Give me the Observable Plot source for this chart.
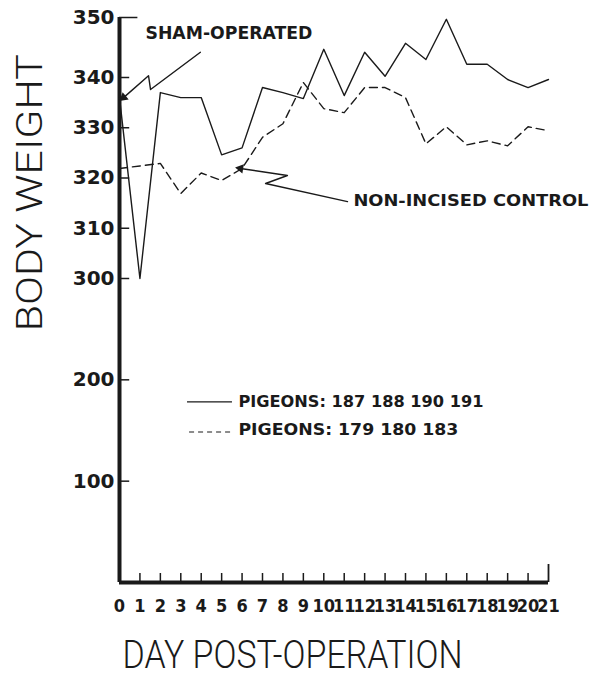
<!DOCTYPE html>
<html><head><meta charset="utf-8">
<script src="https://cdn.jsdelivr.net/npm/d3@7"></script>
<script src="https://cdn.jsdelivr.net/npm/@observablehq/plot@0.6"></script>
<style>
body{margin:0;background:#fff}
#chart svg{display:block}
</style>
</head><body><div id="chart"></div>
<script>
// ---- data ----
const days = [0,1,2,3,4,5,6,7,8,9,10,11,12,13,14,15,16,17,18,19,20,21];
const shamWeight    = [336,300,337,336,336,324.6,326,338,337,335.8,344.7,336.4,344.2,340.2,345.7,343,349.7,342.2,342.2,339.6,338,339.6];
const controlWeight = [321.9,322.4,322.9,316.9,321,319.5,321.9,328.1,330.8,339,333.8,333,338,338,336,326.8,330.2,326.6,327.4,326.4,330.2,329.4];
const yTicks = [100,200,300,310,320,330,340,350];
const xTicks = days;
const legendLabels = ["PIGEONS: 187 188 190 191", "PIGEONS: 179 180 183"];
const shamArrow = [{d:3.96,w:344.2},{d:1.52,w:337.6},{d:1.42,w:340.3},{d:0.2,w:336.0}];
const controlArrow = [{d:11.16,w:315.3},{d:7.15,w:318.9},{d:8.22,w:320.5},{d:5.92,w:321.9}];

// broken weight axis of the original: 0–300 compressed, 300–350 stretched
const warp = d3.scaleLinear().domain([0,300,340,350]).range([0,304,505,565]);
const W = v => warp(v);

const sham = days.map((d,i)=>({d, w: shamWeight[i]}));
const control = days.map((d,i)=>({d, w: controlWeight[i]}));

const ink = "#1a1a1a";
const boldFont = "'DejaVu Sans Condensed', 'DejaVu Sans', sans-serif";

const chart = Plot.plot({
  width: 592, height: 685,
  marginLeft: 119, marginRight: 44, marginTop: 17, marginBottom: 103,
  style: {background: "#fff", color: ink},
  x: {domain: [0,21], axis: null},
  y: {domain: [0,565], axis: null},
  marks: [
    // axes lines
    Plot.ruleX([0], {y1: 0, y2: W(350), stroke: ink, strokeWidth: 4}),
    Plot.ruleY([0], {x1: 0, x2: 21, stroke: ink, strokeWidth: 4}),
    // y ticks (inward)
    Plot.ruleY(yTicks.filter(t=>t<350), {y: W, x1: 0, x2: 0.5, stroke: ink, strokeWidth: 1.5}),
    Plot.ruleY([350], {y: W, x1: 0, x2: 0.9, stroke: ink, strokeWidth: 1.5}),
    // x ticks
    Plot.ruleX(xTicks.filter(t=>t>0 && t<21), {y1: 0, y2: 9, stroke: ink, strokeWidth: 1.5}),
    Plot.ruleX([21], {y1: 0, y2: 18, stroke: ink, strokeWidth: 1.8}),
    // tick labels
    Plot.text(yTicks, {y: W, text: d=>String(d), x: 0, dx: -5, textAnchor: "end",
      fontSize: 20, fontWeight: "bold", fontFamily: "'DejaVu Sans', sans-serif", fill: ink, style:"letter-spacing:1.5px"}),
    Plot.text(xTicks, {x: d=>d, text: d=>String(d), y: 0, dy: 24,
      fontSize: 18, fontWeight: "bold", fontFamily: boldFont, fill: ink, style:"letter-spacing:-2.2px"}),
    // axis titles
    Plot.text(["BODY WEIGHT"], {frameAnchor: "left", dx: -89, y: W(248), rotate: -90,
      fontSize: 36, fontFamily: "Roboto, sans-serif", fontWeight: 300, fill: ink}),
    Plot.text(["DAY POST-OPERATION"], {x: 8.47, frameAnchor: "bottom", dy: 85,
      fontSize: 38, fontFamily: "Roboto, sans-serif", fontWeight: 300, fill: ink}),
    // data lines
    Plot.line(sham, {x: "d", y: d=>W(d.w), stroke: ink, strokeWidth: 1.4}),
    Plot.line(control, {x: "d", y: d=>W(d.w), stroke: ink, strokeWidth: 1.4, strokeDasharray: "8,5"}),
    // annotations
    Plot.line(shamArrow, {x: "d", y: d=>W(d.w), stroke: ink, strokeWidth: 1.4}),
    Plot.line(controlArrow, {x: "d", y: d=>W(d.w), stroke: ink, strokeWidth: 1.4}),
    Plot.dot([shamArrow[3]], {x: "d", y: d=>W(d.w), symbol: "triangle", r: 3.5, fill: ink, rotate: 230}),
    Plot.dot([controlArrow[3]], {x: "d", y: d=>W(d.w), symbol: "triangle", r: 3.5, fill: ink, rotate: 279}),
    Plot.text(["SHAM-OPERATED"], {x: 1.27, y: W(347.3), textAnchor: "start",
      fontSize: 17, fontWeight: "bold", fontFamily: boldFont, fill: ink}),
    Plot.text(["NON-INCISED CONTROL"], {x: 11.45, y: W(315.5), textAnchor: "start",
      fontSize: 16, fontWeight: "bold", fontFamily: boldFont, fill: ink}),
    // legend
    Plot.ruleY([178.2], {y: W, x1: 3.33, x2: 5.53, stroke: ink, strokeWidth: 1.4}),
    Plot.ruleY([148.5], {y: W, x1: 3.43, x2: 5.58, stroke: ink, strokeWidth: 1.2, strokeDasharray: "5,4"}),
    Plot.text(legendLabels, {x: 5.82, y: (d,i)=> W(i===0 ? 178.5 : 150.5), textAnchor: "start",
      fontSize: 16, fontWeight: "bold", fontFamily: boldFont, fill: ink})
  ]
});
document.getElementById("chart").appendChild(chart);

// fit hand-lettered widths
const fits = {
  "BODY WEIGHT": 277,
  "DAY POST-OPERATION": 340,
  "SHAM-OPERATED": 167,
  "NON-INCISED CONTROL": 235,
  "PIGEONS: 187 188 190 191": 245,
  "PIGEONS: 179 180 183": 220
};
d3.select(chart).selectAll("text").each(function(){
  const t = this.textContent;
  if (fits[t]) { this.setAttribute("textLength", fits[t]); this.setAttribute("lengthAdjust", "spacingAndGlyphs"); }
});
</script>
</body></html>
